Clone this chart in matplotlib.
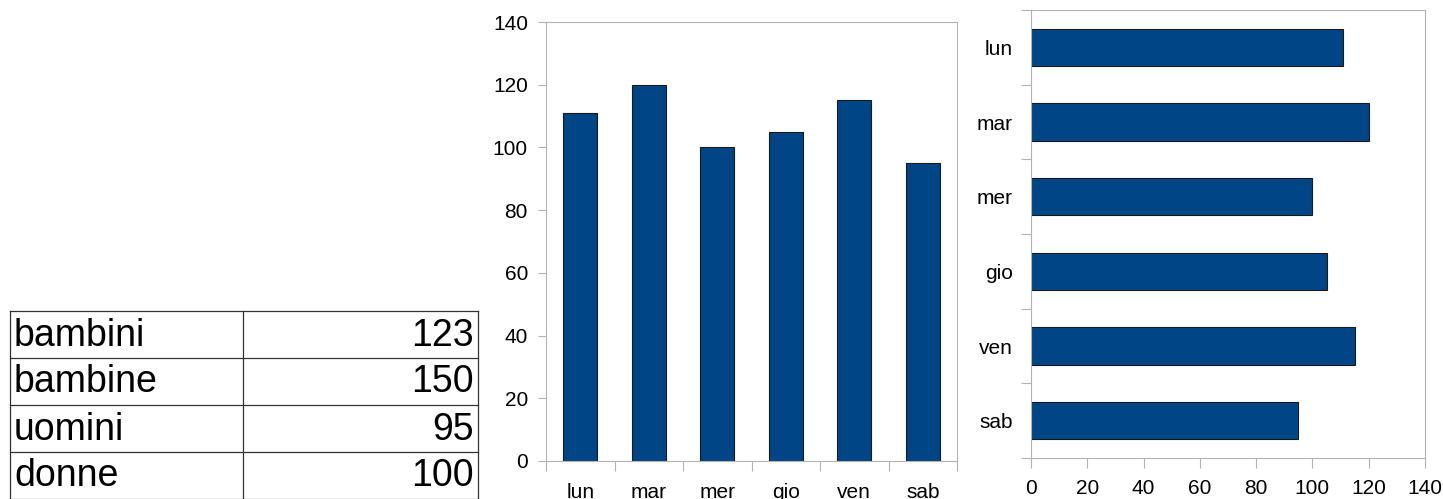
import matplotlib
matplotlib.use('Agg')
from matplotlib import pyplot as plt

plt.rcParams['font.family'] = ['Liberation Sans', 'DejaVu Sans']

# data
days = ['lun', 'mar', 'mer', 'gio', 'ven', 'sab']
visits = [111, 120, 100, 105, 115, 95]
table_labels = ['bambini', 'bambine', 'uomini', 'donne']
table_values = [123, 150, 95, 100]

bar_color = '#004586'
frame_color = '#b3b3b3'

fig = plt.figure(figsize=(14.43, 4.99), dpi=100)

# table on the left, drawn in pixel coordinates
ax_t = fig.add_axes([0, 0, 1, 1])
ax_t.set_xlim(0, 1443)
ax_t.set_ylim(499, 0)
ax_t.axis('off')
row_h = 47
top = 311
x_left, x_mid, x_right = 10, 243, 478
n = len(table_labels)
for i in range(n + 1):
    ax_t.plot([x_left, x_right], [top + i * row_h] * 2, color='#333333', lw=0.9)
for x in (x_left, x_mid, x_right):
    ax_t.plot([x, x], [top, top + n * row_h], color='#333333', lw=0.9)
for i, (lab, val) in enumerate(zip(table_labels, table_values)):
    yc = top + i * row_h + row_h / 2 + 1
    ax_t.text(x_left + 4, yc, lab, fontsize=27, va='center', ha='left')
    ax_t.text(x_right - 4, yc, str(val), fontsize=27, va='center', ha='right')


def style_frame(ax):
    for s in ax.spines.values():
        s.set_color(frame_color)
        s.set_linewidth(0.8)


# vertical bar chart
ax1 = fig.add_axes([546 / 1443, 1 - 461 / 499, 411 / 1443, 439 / 499])
pos = list(range(len(days)))
ax1.bar(pos, visits, width=0.5, color=bar_color, edgecolor='#1a1a1a', linewidth=0.8)
ax1.set_xlim(-0.5, len(days) - 0.5)
ax1.set_ylim(0, 140)
ax1.set_yticks(range(0, 141, 20))
ax1.set_xticks(pos)
ax1.set_xticklabels(days)
ax1.set_xticks([p - 0.5 for p in pos] + [len(days) - 0.5], minor=True)
ax1.tick_params(axis='x', which='major', length=0, pad=16, labelsize=15)
ax1.tick_params(axis='x', which='minor', length=7, color=frame_color, width=0.8)
ax1.tick_params(axis='y', length=6, pad=7, color=frame_color, width=0.8, labelsize=15)
style_frame(ax1)

# horizontal bar chart
ax2 = fig.add_axes([1031 / 1443, 1 - 458 / 499, 394 / 1443, 448 / 499])
ax2.barh(pos, visits, height=0.5, color=bar_color, edgecolor='#1a1a1a', linewidth=0.8)
ax2.set_ylim(len(days) - 0.5, -0.5)
ax2.set_xlim(0, 140)
ax2.set_xticks(range(0, 141, 20))
ax2.set_yticks(pos)
ax2.set_yticklabels(days)
ax2.set_yticks([p - 0.5 for p in pos] + [len(days) - 0.5], minor=True)
ax2.tick_params(axis='y', which='major', length=0, pad=13, labelsize=15)
ax2.tick_params(axis='y', which='minor', length=7, color=frame_color, width=0.8)
ax2.tick_params(axis='x', length=7, pad=8, color=frame_color, width=0.8, labelsize=15)
style_frame(ax2)

fig.savefig('out.png', dpi=100)
